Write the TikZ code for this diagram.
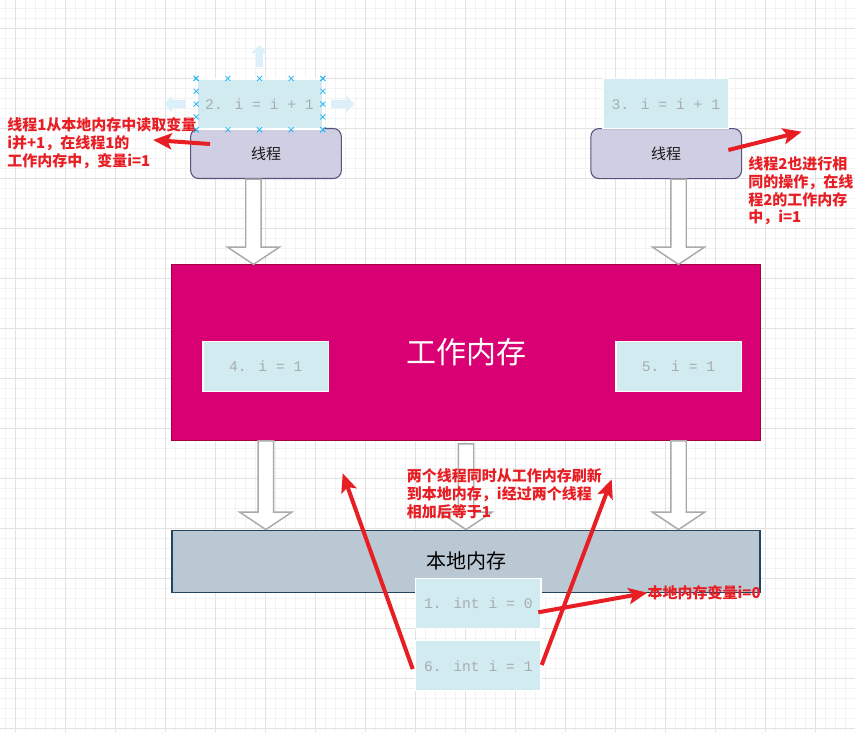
\documentclass[tikz,border=0pt]{standalone}
\usepackage{fontspec}
\newfontfamily\cjk{Noto Sans CJK SC}
\newfontfamily\codefont{Liberation Mono}
\usetikzlibrary{arrows.meta,calc}

\definecolor{threadfill}{HTML}{D0CEE2}
\definecolor{threaddraw}{HTML}{56517E}
\definecolor{cellfill}{HTML}{D1EBF0}
\definecolor{celltext}{HTML}{A8ACB0}
\definecolor{workfill}{HTML}{D80073}
\definecolor{workdraw}{HTML}{A50040}
\definecolor{localfill}{HTML}{BAC8D3}
\definecolor{localdraw}{HTML}{23445D}
\definecolor{notered}{HTML}{E81E25}
\definecolor{selblue}{HTML}{29B6F2}
\definecolor{hoverblue}{HTML}{DDEFFB}

\newcommand\blockarr[2]{%
  \draw[bigarrow] let \p1=(#1), \p2=(#2) in
    (\x1-5.8pt,\y1) -- (\x1-5.8pt,\y2+13pt) -- (\x1-19.5pt,\y2+13pt) -- (\x1,\y2)
    -- (\x1+19.5pt,\y2+13pt) -- (\x1+5.8pt,\y2+13pt) -- (\x1+5.8pt,\y1) -- cycle;}

\begin{document}
\begin{tikzpicture}[x=0.75pt,y=-0.75pt]

    \tikzstyle{gridminor}=[draw={rgb,255:red,242;green,242;blue,242}, line width=0.75pt]
    \tikzstyle{gridmajor}=[draw={rgb,255:red,226;green,226;blue,226}, line width=0.75pt]
    \tikzstyle{threadbox}=[rectangle, rounded corners=6pt, fill=threadfill, draw=threaddraw, line width=0.8pt,
                           minimum width=113pt, minimum height=37.5pt, font=\cjk\fontsize{11.25pt}{13pt}\selectfont, text={rgb,255:red,26;green,26;blue,26}]
    \tikzstyle{cellbox}=[rectangle, fill=cellfill, draw=white, line width=1pt, minimum width=94pt, minimum height=37.5pt,
                         font=\codefont\fontsize{11pt}{13pt}\selectfont, text=celltext]
    \tikzstyle{bigarrow}=[fill=white, draw={rgb,255:red,170;green,170;blue,170}, line width=1.1pt]
    \tikzstyle{redarrow}=[draw=notered, line width=3pt, -{Stealth[length=14pt,width=12pt,inset=3pt]}]
    \tikzstyle{note}=[anchor=west, align=left, inner sep=0pt, text=notered, font=\cjk\bfseries\fontsize{11.25pt}{13.4pt}\selectfont]
    \tikzstyle{selmark}=[draw=selblue, line width=0.6pt]
    \tikzstyle{hoverarrow}=[draw=hoverblue, line width=5.5pt, -{Triangle[length=6pt,width=12pt]}]

    \fill[white] (0,0) rectangle (855,732);
    \useasboundingbox (0,0) rectangle (855,732);
    \foreach \x in {5,15,...,855} \draw[gridminor] (\x,0) -- (\x,732);
    \foreach \y in {8,18,...,732} \draw[gridminor] (0,\y) -- (855,\y);
    \foreach \x in {15,65,...,855} \draw[gridmajor] (\x,0) -- (\x,732);
    \foreach \y in {28,78,...,732} \draw[gridmajor] (0,\y) -- (855,\y);

    \node[threadbox] (t1) at (266,153.5) {线程};
    \node[threadbox] (t2) at (666.2,153.6) {线程};
    \node[cellbox] (s2) at (259.5,104.1) {2. i = i + 1};
    \node[cellbox] (s3) at (665.8,103.8) {3. i = i + 1};

    \node[rectangle, fill=workfill, draw=workdraw, line width=0.8pt, minimum width=441.5pt, minimum height=131.5pt,
          text=white, font=\cjk\fontsize{22.5pt}{27pt}\selectfont] (work) at (466,352.6) {工作内存};
    \node[cellbox] (s4) at (265.8,366.3) {4. i = 1};
    \node[cellbox] (s5) at (678.5,366.2) {5. i = 1};

    \node[rectangle, fill=localfill, draw=localdraw, line width=0.8pt, minimum width=441pt, minimum height=46.7pt,
          text=black, font=\cjk\fontsize{15pt}{18pt}\selectfont] (local) at (466,561.2) {本地内存};
    \node[cellbox] (s1) at (478.3,603.3) {1. int i = 0};
    \node[cellbox] (s6) at (478.3,665.8) {6. int i = 1};

    \coordinate (a1) at ([xshift=-9.4pt]t1.south);
    \blockarr{a1}{a1 |- work.north}
    \blockarr{s5 |- t2.south}{s5 |- work.north}
    \blockarr{s4 |- work.south}{s4 |- local.north}
    \blockarr{[yshift=-2.25pt]work.south}{local.north}
    \blockarr{s5 |- work.south}{s5 |- local.north}

    \draw[hoverarrow] ([yshift=8.25pt]s2.north) -- ([yshift=25pt]s2.north);
    \draw[hoverarrow] ([xshift=-8pt]s2.west) -- ([xshift=-24pt]s2.west);
    \draw[hoverarrow] ([xshift=6.2pt]s2.east) -- ([xshift=23.7pt]s2.east);
    \foreach \t in {0,0.25,0.5,0.75,1} {
        \draw[selmark] ($(s2.north west)!\t!(s2.north east)$) +(-2.5,-2.5) -- +(2.5,2.5) +(-2.5,2.5) -- +(2.5,-2.5);
        \draw[selmark] ($(s2.south west)!\t!(s2.south east)$) +(-2.5,-2.5) -- +(2.5,2.5) +(-2.5,2.5) -- +(2.5,-2.5);
        \draw[selmark] ($(s2.north west)!\t!(s2.south west)$) +(-2.5,-2.5) -- +(2.5,2.5) +(-2.5,2.5) -- +(2.5,-2.5);
        \draw[selmark] ($(s2.north east)!\t!(s2.south east)$) +(-2.5,-2.5) -- +(2.5,2.5) +(-2.5,2.5) -- +(2.5,-2.5);
    }

    \node[note] (n1) at (7,143)     {线程1从本地内存中读取变量\\i并+1，在线程1的\\工作内存中，变量i=1};
    \node[note] (n2) at (748,190.8) {线程2也进行相\\同的操作，在线\\程2的工作内存\\中，i=1};
    \node[note] (n3) at (406.7,494) {两个线程同时从工作内存刷新\\到本地内存，i经过两个线程\\相加后等于1};
    \node[note] (n4) at (647.3,592.7) {本地内存变量i=0};

    \coordinate (r1a) at (210,144);   \coordinate (r1b) at (153,140);
    \coordinate (r2a) at (728.3,150); \coordinate (r2b) at (801.7,131.7);
    \coordinate (r3a) at (412.7,669); \coordinate (r3b) at (342.7,473.3);
    \coordinate (r4a) at (541.7,665); \coordinate (r4b) at (611.7,479.3);
    \coordinate (r5a) at (538.3,612.3);

    \draw[redarrow] (r1a) -- (r1b);
    \draw[redarrow] (r2a) -- (r2b);
    \draw[redarrow] (r3a) -- (r3b);
    \draw[redarrow] (r4a) -- (r4b);
    \draw[redarrow] (r5a) -- (n4.west);

\end{tikzpicture}
\end{document}
